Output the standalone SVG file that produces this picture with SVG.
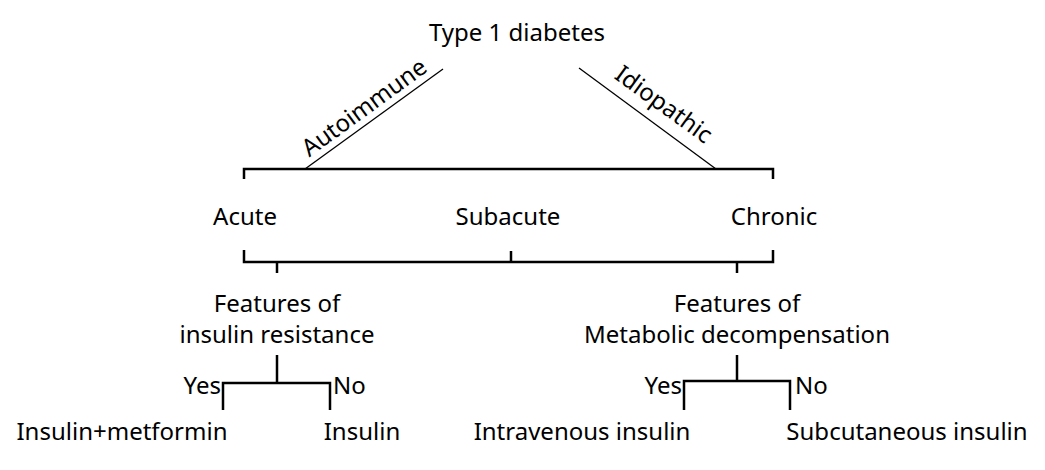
<svg xmlns="http://www.w3.org/2000/svg" width="1045" height="470" viewBox="0 0 1045 470">
<style>
text{font-family:"Noto Sans","Open Sans","DejaVu Sans",sans-serif;font-size:24px;fill:#000}
.c{text-anchor:middle}
.e{text-anchor:end}
.thin{stroke:#000;stroke-width:1.3;fill:none}
.thick{stroke:#000;stroke-width:2.5;fill:none}
</style>
<rect width="1045" height="470" fill="#fff"/>
<g id="connectors">
<line class="thin" x1="305" y1="169" x2="443" y2="69"/>
<line class="thin" x1="579" y1="68" x2="716" y2="169"/>
<polyline class="thick" points="244,179 244,169 773,169 773,179"/>
<polyline class="thick" points="244,250 244,262 773,262 773,250"/>
<line class="thick" x1="511" y1="251" x2="511" y2="262"/>
<line class="thick" x1="277" y1="262" x2="277" y2="273"/>
<line class="thick" x1="737" y1="262" x2="737" y2="273"/>
<line class="thick" x1="277" y1="355" x2="277" y2="383"/>
<polyline class="thick" points="223,410 223,383 330,383 330,410"/>
<line class="thick" x1="737" y1="355" x2="737" y2="381"/>
<polyline class="thick" points="684,410 684,381 790,381 790,410"/>
</g>
<g id="root"><text class="c" x="517" y="41">Type 1 diabetes</text></g>
<g id="autoimmune"><text class="c" transform="translate(369,114) rotate(-36)">Autoimmune</text></g>
<g id="idiopathic"><text class="c" transform="translate(659,111) rotate(36)">Idiopathic</text></g>
<g id="acute"><text class="c" x="245" y="225">Acute</text></g>
<g id="subacute"><text class="c" x="508" y="225">Subacute</text></g>
<g id="chronic"><text class="c" x="774" y="225">Chronic</text></g>
<g id="features-ir"><text class="c" x="277" y="312">Features of</text><text class="c" x="277" y="343">insulin resistance</text></g>
<g id="features-md"><text class="c" x="737" y="312">Features of</text><text class="c" x="737" y="343">Metabolic decompensation</text></g>
<g id="yes1"><text class="e" x="221" y="394">Yes</text></g>
<g id="no1"><text x="333" y="394">No</text></g>
<g id="yes2"><text class="e" x="682" y="394">Yes</text></g>
<g id="no2"><text x="795" y="394">No</text></g>
<g id="insulin-metformin"><text class="c" x="122" y="440">Insulin+metformin</text></g>
<g id="insulin"><text class="c" x="362" y="440">Insulin</text></g>
<g id="iv-insulin"><text class="c" x="582" y="440">Intravenous insulin</text></g>
<g id="sc-insulin"><text class="c" x="907" y="440">Subcutaneous insulin</text></g>
</svg>
